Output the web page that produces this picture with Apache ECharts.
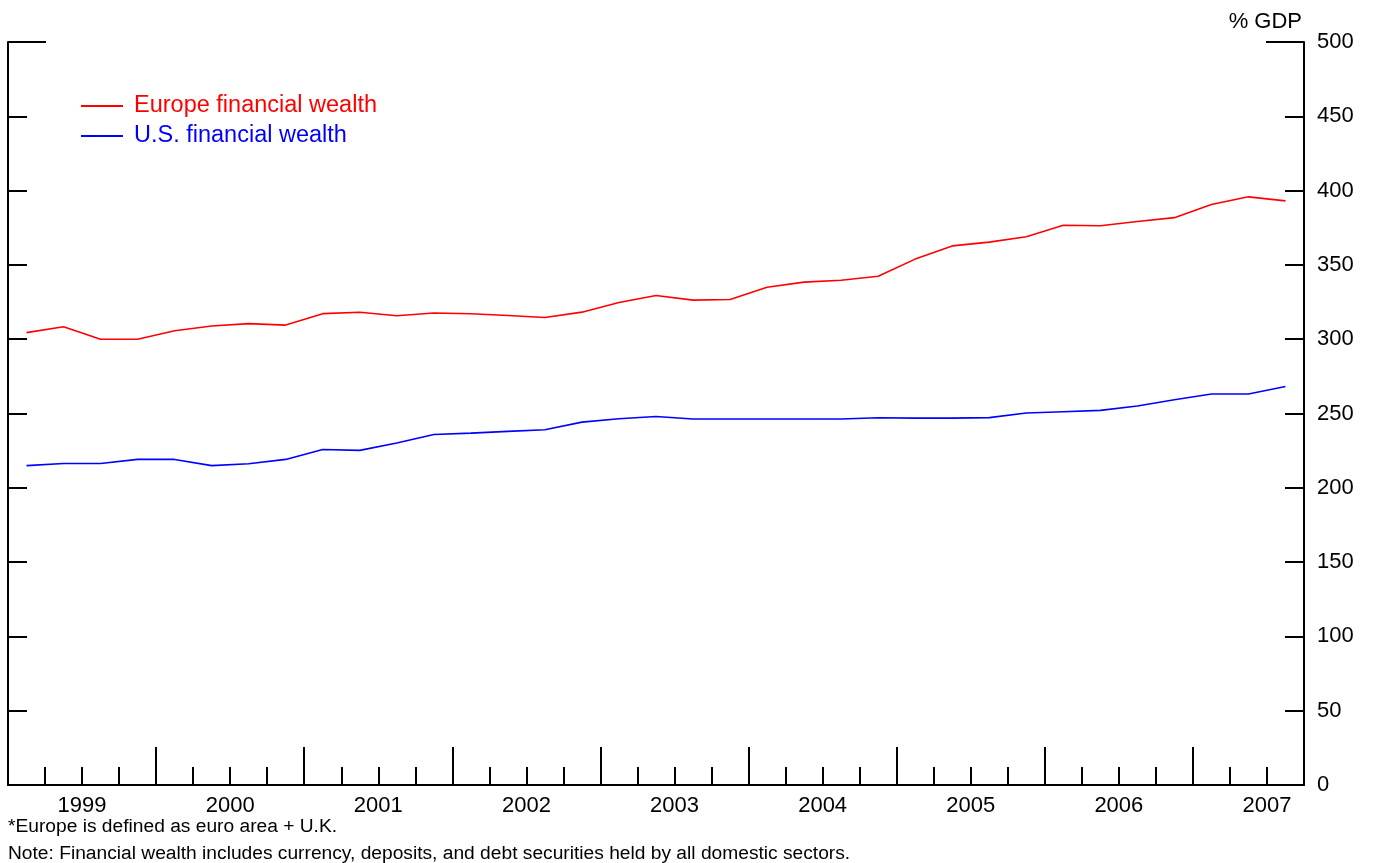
<!DOCTYPE html>
<html>
<head>
<meta charset="utf-8">
<script src="https://cdn.jsdelivr.net/npm/echarts@6/dist/echarts.min.js"></script>
<style>
  html, body { margin: 0; padding: 0; background: #fff; }
  #chart { width: 1376px; height: 863px; }
</style>
</head>
<body>
<div id="chart"></div>
<script>
// Quarterly observations, 1999Q1 .. 2007Q3
const quarters = [
  '1999Q1','1999Q2','1999Q3','1999Q4',
  '2000Q1','2000Q2','2000Q3','2000Q4',
  '2001Q1','2001Q2','2001Q3','2001Q4',
  '2002Q1','2002Q2','2002Q3','2002Q4',
  '2003Q1','2003Q2','2003Q3','2003Q4',
  '2004Q1','2004Q2','2004Q3','2004Q4',
  '2005Q1','2005Q2','2005Q3','2005Q4',
  '2006Q1','2006Q2','2006Q3','2006Q4',
  '2007Q1','2007Q2','2007Q3'
];
const europeWealth = [
  304.4, 308.4, 300.0, 300.0,
  305.7, 308.9, 310.5, 309.5,
  317.2, 318.1, 315.8, 317.6,
  317.1, 315.9, 314.6, 318.2,
  324.7, 329.4, 326.3, 326.7,
  335.0, 338.4, 339.7, 342.4,
  353.9, 362.8, 365.3, 368.9,
  376.7, 376.3, 379.2, 381.8,
  390.6, 395.8, 393.1
];
const usWealth = [
  214.9, 216.4, 216.4, 219.1,
  219.1, 214.9, 216.2, 219.1,
  225.8, 225.2, 230.1, 235.9,
  236.8, 238.0, 239.1, 244.2,
  246.5, 248.0, 246.3, 246.3,
  246.3, 246.3, 246.3, 247.1,
  246.9, 246.9, 247.2, 250.3,
  251.2, 252.1, 255.0, 259.2,
  263.1, 263.1, 268.2
];
const yTicks = [0, 50, 100, 150, 200, 250, 300, 350, 400, 450, 500];
const seriesNames = ['Europe financial wealth', 'U.S. financial wealth'];
const unitLabel = '% GDP';
const footnotes = [
  '*Europe is defined as euro area + U.K.',
  'Note: Financial wealth includes currency, deposits, and debt securities held by all domestic sectors.'
];

// quarter label -> position on a continuous year scale (mid-quarter)
function qPos(q) {
  const y = parseInt(q.slice(0, 4), 10);
  const n = parseInt(q.slice(5), 10);
  return y + (n - 0.5) / 4;
}
const xMin = parseInt(quarters[0].slice(0, 4), 10);
const xMax = qPos(quarters[quarters.length - 1]) + 0.125;

const FONT = "'Liberation Sans', Arial, sans-serif";
const chart = echarts.init(document.getElementById('chart'), null, { renderer: 'canvas' });

const option = {
  animation: false,
  backgroundColor: '#ffffff',
  textStyle: { fontFamily: FONT },
  grid: { left: 8, right: 72, top: 42, bottom: 78, containLabel: false },
  legend: {
    orient: 'vertical',
    left: 76,
    top: 89,
    itemWidth: 42,
    itemHeight: 2,
    itemGap: 6,
    icon: 'rect',
    data: [
      { name: seriesNames[0], textStyle: { color: '#ff0000' } },
      { name: seriesNames[1], textStyle: { color: '#0000ff' } }
    ],
    textStyle: { fontSize: 23.5, fontFamily: FONT, padding: [0, 0, 0, 6] }
  },
  title: [
    { text: footnotes[0], left: 3, top: 812, textStyle: { fontSize: 19.2, fontWeight: 'normal', color: '#000', fontFamily: FONT } },
    { text: footnotes[1], left: 3, top: 839, textStyle: { fontSize: 19.2, fontWeight: 'normal', color: '#000', fontFamily: FONT } }
  ],
  xAxis: [
    {
      type: 'value', min: xMin, max: xMax, interval: 0.25,
      position: 'bottom',
      axisLine: { show: true, lineStyle: { color: '#000', width: 2 } },
      axisTick: { show: true, inside: true, length: 18, lineStyle: { color: '#000', width: 2 } },
      splitLine: { show: false },
      axisLabel: {
        show: true, margin: 10, fontSize: 22, color: '#000', fontFamily: FONT,
        showMinLabel: true, showMaxLabel: true,
        formatter: function (v) {
          const f = v - Math.floor(v);
          return Math.abs(f - 0.5) < 1e-6 ? String(Math.floor(v)) : '';
        }
      }
    },
    {
      type: 'value', min: xMin, max: xMax, interval: 1,
      position: 'bottom',
      axisLine: { show: false },
      axisTick: { show: true, inside: true, length: 38, lineStyle: { color: '#000', width: 2 } },
      splitLine: { show: false },
      axisLabel: { show: false }
    }
  ],
  yAxis: [
    {
      type: 'value', position: 'right', min: yTicks[0], max: yTicks[yTicks.length - 1], interval: yTicks[1] - yTicks[0],
      name: unitLabel, nameLocation: 'end', nameGap: 9,
      nameTextStyle: { fontSize: 22, color: '#000', align: 'right', padding: [0, 2, 0, 0], fontFamily: FONT },
      axisLine: { show: true, lineStyle: { color: '#000', width: 2 } },
      axisTick: { show: true, inside: true, length: 19, lineStyle: { color: '#000', width: 2 } },
      splitLine: { show: false },
      axisLabel: { show: true, margin: 13, fontSize: 22, color: '#000', fontFamily: FONT }
    },
    {
      type: 'value', position: 'left', min: yTicks[0], max: yTicks[yTicks.length - 1], interval: yTicks[1] - yTicks[0],
      axisLine: { show: true, lineStyle: { color: '#000', width: 2 } },
      axisTick: { show: true, inside: true, length: 19, lineStyle: { color: '#000', width: 2 } },
      splitLine: { show: false },
      axisLabel: { show: false }
    },
    {
      type: 'value', position: 'right', min: yTicks[0], max: yTicks[yTicks.length - 1], interval: 500,
      axisLine: { show: false },
      axisTick: { show: true, inside: true, length: 38, customValues: [yTicks[yTicks.length - 1]], lineStyle: { color: '#000', width: 2 } },
      splitLine: { show: false },
      axisLabel: { show: false }
    },
    {
      type: 'value', position: 'left', min: yTicks[0], max: yTicks[yTicks.length - 1], interval: 500,
      axisLine: { show: false },
      axisTick: { show: true, inside: true, length: 38, customValues: [yTicks[yTicks.length - 1]], lineStyle: { color: '#000', width: 2 } },
      splitLine: { show: false },
      axisLabel: { show: false }
    }
  ],
  series: [
    {
      name: seriesNames[0], type: 'line', xAxisIndex: 0, yAxisIndex: 0,
      showSymbol: false, symbol: 'none',
      lineStyle: { color: '#ff0000', width: 1.6 },
      itemStyle: { color: '#ff0000' },
      data: quarters.map((q, i) => [qPos(q), europeWealth[i]])
    },
    {
      name: seriesNames[1], type: 'line', xAxisIndex: 0, yAxisIndex: 0,
      showSymbol: false, symbol: 'none',
      lineStyle: { color: '#0000ff', width: 1.6 },
      itemStyle: { color: '#0000ff' },
      data: quarters.map((q, i) => [qPos(q), usWealth[i]])
    }
  ]
};
chart.setOption(option);
</script>
</body>
</html>
